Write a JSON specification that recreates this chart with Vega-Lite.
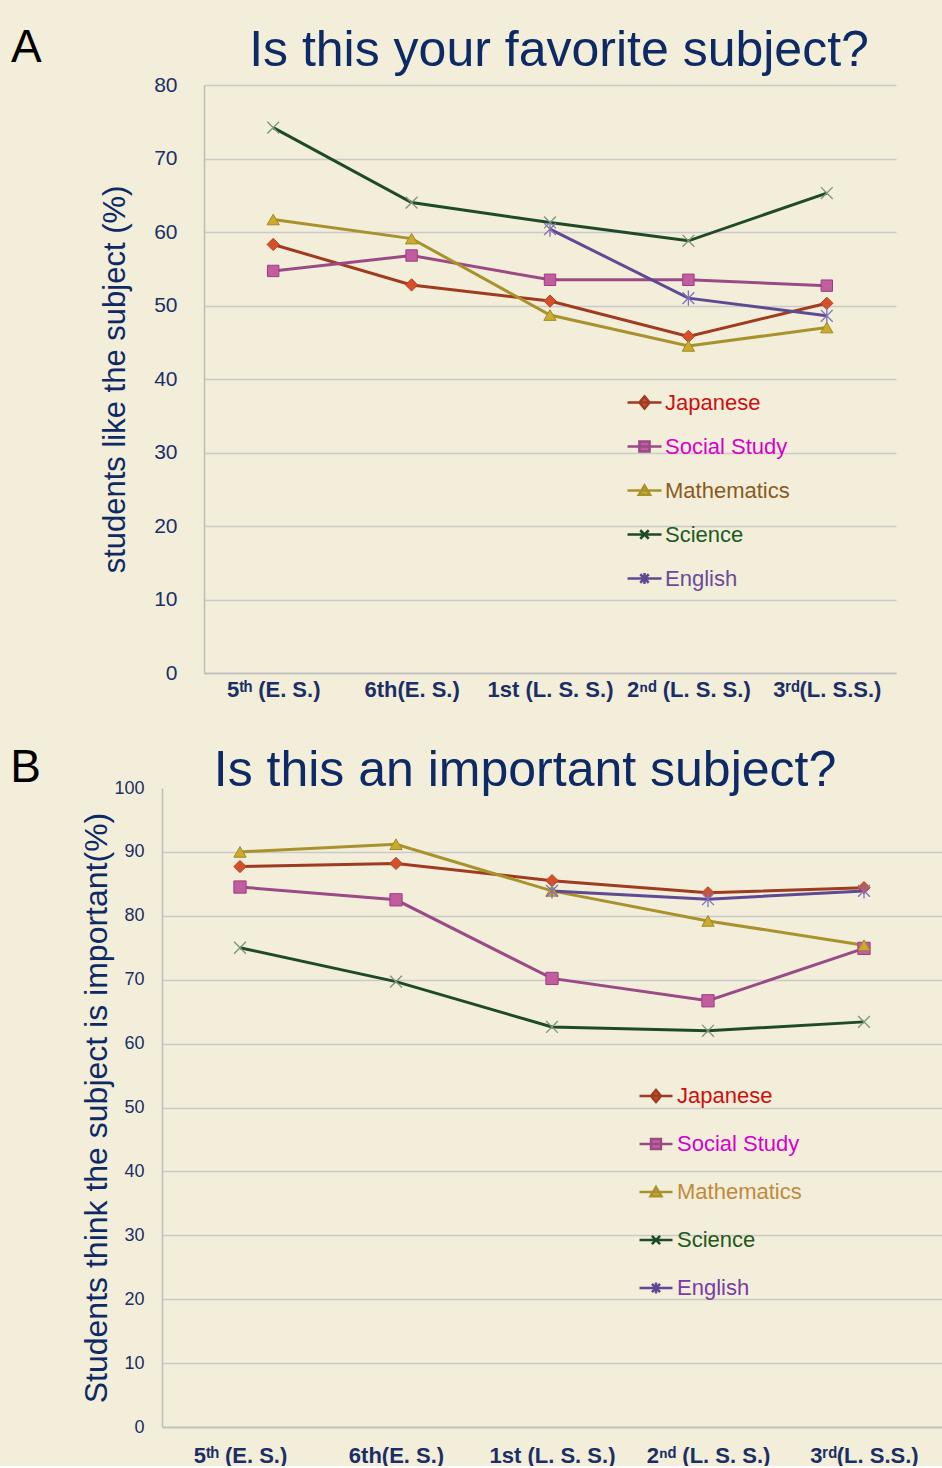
{
  "$schema": "https://vega.github.io/schema/vega-lite/v6.json",
  "background": "#F2EEDA",
  "padding": {"left": 10, "top": 25, "right": 0, "bottom": 0},
  "config": {
    "view": {"stroke": null},
    "font": "Liberation Sans",
    "axis": {"labelColor": "#1B2F66", "titleColor": "#0E2A66", "domainColor": "#BDBDBD", "domainWidth": 1.5, "gridColor": "#CACACA", "gridWidth": 1.5, "ticks": false, "titleFontWeight": "normal", "labelFont": "Liberation Sans", "titleFont": "Liberation Sans"},
    "title": {"font": "Liberation Sans", "fontWeight": "normal", "color": "#0E2A66"},
    "legend": {"labelFont": "Liberation Sans"}
  },
  "resolve": {"scale": {"color": "independent"}, "legend": {"color": "independent"}},
  "datasets": {
    "fav": [
      {"subject": "Japanese", "grade": "5ᵗʰ (E. S.)", "pct": 58.3},
      {"subject": "Japanese", "grade": "6th(E. S.)", "pct": 52.8},
      {"subject": "Japanese", "grade": "1st (L. S. S.)", "pct": 50.6},
      {"subject": "Japanese", "grade": "2ⁿᵈ (L. S. S.)", "pct": 45.8},
      {"subject": "Japanese", "grade": "3ʳᵈ(L. S.S.)", "pct": 50.3},
      {"subject": "Social Study", "grade": "5ᵗʰ (E. S.)", "pct": 54.7},
      {"subject": "Social Study", "grade": "6th(E. S.)", "pct": 56.8},
      {"subject": "Social Study", "grade": "1st (L. S. S.)", "pct": 53.5},
      {"subject": "Social Study", "grade": "2ⁿᵈ (L. S. S.)", "pct": 53.5},
      {"subject": "Social Study", "grade": "3ʳᵈ(L. S.S.)", "pct": 52.7},
      {"subject": "Mathematics", "grade": "5ᵗʰ (E. S.)", "pct": 61.7},
      {"subject": "Mathematics", "grade": "6th(E. S.)", "pct": 59.1},
      {"subject": "Mathematics", "grade": "1st (L. S. S.)", "pct": 48.7},
      {"subject": "Mathematics", "grade": "2ⁿᵈ (L. S. S.)", "pct": 44.5},
      {"subject": "Mathematics", "grade": "3ʳᵈ(L. S.S.)", "pct": 47.0},
      {"subject": "Science", "grade": "5ᵗʰ (E. S.)", "pct": 74.2},
      {"subject": "Science", "grade": "6th(E. S.)", "pct": 64.0},
      {"subject": "Science", "grade": "1st (L. S. S.)", "pct": 61.3},
      {"subject": "Science", "grade": "2ⁿᵈ (L. S. S.)", "pct": 58.8},
      {"subject": "Science", "grade": "3ʳᵈ(L. S.S.)", "pct": 65.3},
      {"subject": "English", "grade": "1st (L. S. S.)", "pct": 60.4},
      {"subject": "English", "grade": "2ⁿᵈ (L. S. S.)", "pct": 51.0},
      {"subject": "English", "grade": "3ʳᵈ(L. S.S.)", "pct": 48.6}
    ],
    "imp": [
      {"subject": "Japanese", "grade": "5ᵗʰ (E. S.)", "pct": 87.7},
      {"subject": "Japanese", "grade": "6th(E. S.)", "pct": 88.2},
      {"subject": "Japanese", "grade": "1st (L. S. S.)", "pct": 85.5},
      {"subject": "Japanese", "grade": "2ⁿᵈ (L. S. S.)", "pct": 83.6},
      {"subject": "Japanese", "grade": "3ʳᵈ(L. S.S.)", "pct": 84.4},
      {"subject": "Social Study", "grade": "5ᵗʰ (E. S.)", "pct": 84.5},
      {"subject": "Social Study", "grade": "6th(E. S.)", "pct": 82.5},
      {"subject": "Social Study", "grade": "1st (L. S. S.)", "pct": 70.2},
      {"subject": "Social Study", "grade": "2ⁿᵈ (L. S. S.)", "pct": 66.7},
      {"subject": "Social Study", "grade": "3ʳᵈ(L. S.S.)", "pct": 74.9},
      {"subject": "Mathematics", "grade": "5ᵗʰ (E. S.)", "pct": 90.0},
      {"subject": "Mathematics", "grade": "6th(E. S.)", "pct": 91.2},
      {"subject": "Mathematics", "grade": "1st (L. S. S.)", "pct": 83.9},
      {"subject": "Mathematics", "grade": "2ⁿᵈ (L. S. S.)", "pct": 79.2},
      {"subject": "Mathematics", "grade": "3ʳᵈ(L. S.S.)", "pct": 75.4},
      {"subject": "Science", "grade": "5ᵗʰ (E. S.)", "pct": 75.0},
      {"subject": "Science", "grade": "6th(E. S.)", "pct": 69.7},
      {"subject": "Science", "grade": "1st (L. S. S.)", "pct": 62.6},
      {"subject": "Science", "grade": "2ⁿᵈ (L. S. S.)", "pct": 62.0},
      {"subject": "Science", "grade": "3ʳᵈ(L. S.S.)", "pct": 63.4},
      {"subject": "English", "grade": "1st (L. S. S.)", "pct": 83.9},
      {"subject": "English", "grade": "2ⁿᵈ (L. S. S.)", "pct": 82.6},
      {"subject": "English", "grade": "3ʳᵈ(L. S.S.)", "pct": 83.9}
    ]
  },
  "concat": [
    {
      "title": {"text": "A", "orient": "left", "anchor": "end", "angle": 0, "align": "left", "baseline": "top", "fontSize": 46, "color": "#000000", "offset": 58},
      "vconcat": [
        {
          "width": 734,
          "height": 588,
          "title": {"text": "Is this your favorite subject?", "fontSize": 50, "anchor": "middle", "dx": 30, "offset": -2},
          "data": {"name": "fav"},
          "encoding": {
            "x": {"field": "grade", "type": "ordinal", "sort": ["5ᵗʰ (E. S.)", "6th(E. S.)", "1st (L. S. S.)", "2ⁿᵈ (L. S. S.)", "3ʳᵈ(L. S.S.)"], "scale": {"type": "point", "padding": 0.5, "range": [42, 734]},
              "axis": {"title": null, "labelAngle": 0, "labelFontSize": 22, "labelFontWeight": "bold", "labelPadding": 6, "grid": false}},
            "y": {"field": "pct", "type": "quantitative", "scale": {"domain": [0, 80], "nice": false},
              "axis": {"title": "students like the subject (%)", "offset": -42, "titleFontSize": 31, "titlePadding": 22, "labelFontSize": 21, "labelPadding": 27, "values": [0, 10, 20, 30, 40, 50, 60, 70, 80], "grid": true}}
          },
          "layer": [
            {
              "mark": {"type": "line", "strokeWidth": 3},
              "encoding": {
                "color": {"field": "subject", "type": "nominal",
                  "scale": {"domain": ["Japanese", "Social Study", "Mathematics", "Science", "English"], "range": ["#9E3B20", "#9A4A85", "#A8922C", "#1F4A28", "#5E4A92"]},
                  "legend": {"title": null, "orient": "none", "legendX": 464, "legendY": 299, "padding": 0, "symbolSize": 1156, "symbolStrokeWidth": 2.5, "labelFontSize": 22, "labelOffset": 2, "rowPadding": 14, "labelLimit": 300,
                    "encode": {
                      "symbols": {"update": {
                        "shape": {"signal": "datum.value==='Japanese'?'M-1,0H1M0,-0.36L0.3,0L0,0.36L-0.3,0Z':datum.value==='Social Study'?'M-1,0H1M-0.3,-0.3H0.3V0.3H-0.3Z':datum.value==='Mathematics'?'M-1,0H1M0,-0.3L0.33,0.25H-0.33Z':datum.value==='Science'?'M-1,0H1M-0.25,-0.25L0.25,0.25M-0.25,0.25L0.25,-0.25':'M-1,0H1M-0.25,-0.25L0.25,0.25M-0.25,0.25L0.25,-0.25M0,-0.33V0.33'"},
                        "fill": {"signal": "datum.value==='Japanese'?'#D4502C':datum.value==='Social Study'?'#C45DA0':datum.value==='Mathematics'?'#CCAA30':'transparent'"},
                        "stroke": {"signal": "datum.value==='Japanese'?'#9E3B20':datum.value==='Social Study'?'#9A4A85':datum.value==='Mathematics'?'#A8922C':datum.value==='Science'?'#1F4A28':'#5E4A92'"}
                      }},
                      "labels": {"update": {
                        "fill": {"signal": "datum.value==='Japanese'?'#CC1010':datum.value==='Social Study'?'#D800C8':datum.value==='Mathematics'?'#8A5A20':datum.value==='Science'?'#1E5A1E':'#6A4A9A'"}
                      }}
                    }
                  }
                }
              }
            },
            {"transform": [{"filter": "datum.subject === 'Japanese'"}], "mark": {"type": "point", "shape": "diamond", "filled": true, "fill": "#D4502C", "stroke": "#B8401F", "strokeWidth": 1, "size": 150, "opacity": 1}},
            {"transform": [{"filter": "datum.subject === 'Social Study'"}], "mark": {"type": "point", "shape": "square", "filled": true, "fill": "#C45DA0", "stroke": "#9A3E80", "strokeWidth": 1, "size": 130, "opacity": 1}},
            {"transform": [{"filter": "datum.subject === 'Mathematics'"}], "mark": {"type": "point", "shape": "triangle-up", "filled": true, "fill": "#CCAA30", "stroke": "#A08A20", "strokeWidth": 1, "size": 150, "opacity": 1}},
            {"transform": [{"filter": "datum.subject === 'Science'"}], "mark": {"type": "point", "shape": "M-1,-1L1,1M-1,1L1,-1", "filled": false, "stroke": "#7C947C", "strokeWidth": 1.3, "size": 140, "opacity": 1}},
            {"transform": [{"filter": "datum.subject === 'English'"}], "mark": {"type": "point", "shape": "M-1,-1L1,1M-1,1L1,-1M0,-1.3V1.3", "filled": false, "stroke": "#8070B8", "strokeWidth": 1.3, "size": 140, "opacity": 1}}
          ]
        }
      ]
    },
    {
      "title": {"text": "B", "orient": "left", "anchor": "end", "angle": 0, "align": "left", "baseline": "top", "fontSize": 46, "color": "#000000", "offset": 40},
      "vconcat": [
        {
          "width": 780,
          "height": 639,
          "title": {"text": "Is this an important subject?", "fontSize": 50, "anchor": "middle", "dx": -27, "offset": -17},
          "data": {"name": "imp"},
          "encoding": {
            "x": {"field": "grade", "type": "ordinal", "sort": ["5ᵗʰ (E. S.)", "6th(E. S.)", "1st (L. S. S.)", "2ⁿᵈ (L. S. S.)", "3ʳᵈ(L. S.S.)"], "scale": {"type": "point", "padding": 0.5},
              "axis": {"title": null, "labelAngle": 0, "labelFontSize": 22, "labelFontWeight": "bold", "labelPadding": 18, "grid": false}},
            "y": {"field": "pct", "type": "quantitative", "scale": {"domain": [0, 100], "nice": false},
              "axis": {"title": "Students think the subject is important(%)", "titleFontSize": 32, "titlePadding": 0, "labelFontSize": 18, "labelPadding": 18, "values": [0, 10, 20, 30, 40, 50, 60, 70, 80, 90, 100], "grid": true,
                "gridOpacity": {"condition": {"test": "datum.value === 100", "value": 0}, "value": 1}}}
          },
          "layer": [
            {
              "mark": {"type": "line", "strokeWidth": 3},
              "encoding": {
                "color": {"field": "subject", "type": "nominal",
                  "scale": {"domain": ["Japanese", "Social Study", "Mathematics", "Science", "English"], "range": ["#9E3B20", "#9A4A85", "#A8922C", "#1F4A28", "#5E4A92"]},
                  "legend": {"title": null, "orient": "none", "legendX": 476, "legendY": 290, "padding": 0, "symbolSize": 1089, "symbolStrokeWidth": 2.5, "labelFontSize": 22, "labelOffset": 3, "rowPadding": 19, "labelLimit": 300,
                    "encode": {
                      "symbols": {"update": {
                        "shape": {"signal": "datum.value==='Japanese'?'M-1,0H1M0,-0.36L0.3,0L0,0.36L-0.3,0Z':datum.value==='Social Study'?'M-1,0H1M-0.3,-0.3H0.3V0.3H-0.3Z':datum.value==='Mathematics'?'M-1,0H1M0,-0.3L0.33,0.25H-0.33Z':datum.value==='Science'?'M-1,0H1M-0.25,-0.25L0.25,0.25M-0.25,0.25L0.25,-0.25':'M-1,0H1M-0.25,-0.25L0.25,0.25M-0.25,0.25L0.25,-0.25M0,-0.33V0.33'"},
                        "fill": {"signal": "datum.value==='Japanese'?'#D4502C':datum.value==='Social Study'?'#C45DA0':datum.value==='Mathematics'?'#CCAA30':'transparent'"},
                        "stroke": {"signal": "datum.value==='Japanese'?'#9E3B20':datum.value==='Social Study'?'#9A4A85':datum.value==='Mathematics'?'#A8922C':datum.value==='Science'?'#1F4A28':'#5E4A92'"}
                      }},
                      "labels": {"update": {
                        "fill": {"signal": "datum.value==='Japanese'?'#CC1010':datum.value==='Social Study'?'#D800C8':datum.value==='Mathematics'?'#C08A3A':datum.value==='Science'?'#1E5A1E':'#7A3AA8'"}
                      }}
                    }
                  }
                }
              }
            },
            {"transform": [{"filter": "datum.subject === 'Japanese'"}], "mark": {"type": "point", "shape": "diamond", "filled": true, "fill": "#D4502C", "stroke": "#B8401F", "strokeWidth": 1, "size": 150, "opacity": 1}},
            {"transform": [{"filter": "datum.subject === 'Social Study'"}], "mark": {"type": "point", "shape": "square", "filled": true, "fill": "#C45DA0", "stroke": "#9A3E80", "strokeWidth": 1, "size": 150, "opacity": 1}},
            {"transform": [{"filter": "datum.subject === 'Mathematics'"}], "mark": {"type": "point", "shape": "triangle-up", "filled": true, "fill": "#CCAA30", "stroke": "#A08A20", "strokeWidth": 1, "size": 150, "opacity": 1}},
            {"transform": [{"filter": "datum.subject === 'Science'"}], "mark": {"type": "point", "shape": "M-1,-1L1,1M-1,1L1,-1", "filled": false, "stroke": "#7C947C", "strokeWidth": 1.3, "size": 140, "opacity": 1}},
            {"transform": [{"filter": "datum.subject === 'English'"}], "mark": {"type": "point", "shape": "M-1,-1L1,1M-1,1L1,-1M0,-1.3V1.3", "filled": false, "stroke": "#8070B8", "strokeWidth": 1.3, "size": 140, "opacity": 1}}
          ]
        }
      ]
    }
  ],
  "columns": 1,
  "align": "none",
  "spacing": 45
}
